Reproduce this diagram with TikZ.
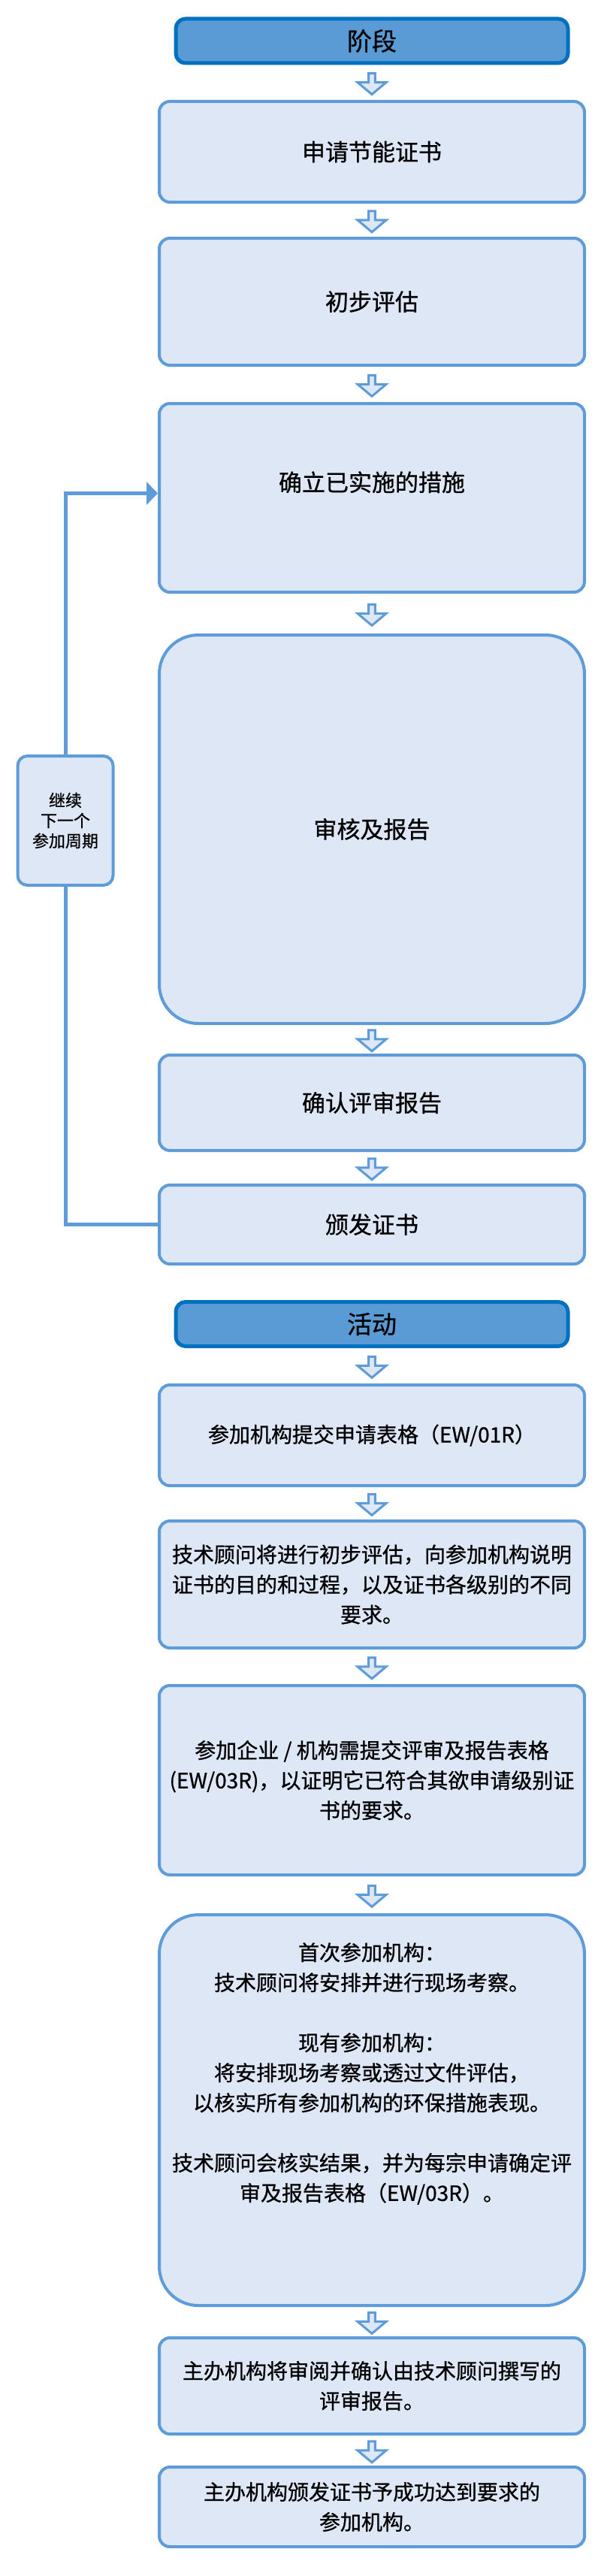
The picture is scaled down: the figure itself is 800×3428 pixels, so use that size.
\documentclass[tikz,border=0pt]{standalone}
\usepackage{fontspec}
\setmainfont{Noto Sans CJK SC}[FakeBold=0.8]
\usetikzlibrary{arrows.meta,shapes.arrows,calc}
\definecolor{stageblue}{RGB}{91,155,213}
\definecolor{stageline}{RGB}{0,112,192}
\definecolor{boxfill}{RGB}{221,231,246}
\definecolor{boxline}{RGB}{93,156,216}
\tikzset{
  stagehead/.style={draw=stageline,fill=stageblue,line width=5pt,rounded corners=13pt,
    minimum width=522pt,minimum height=59pt,font=\fontsize{33}{40}\selectfont},
  phasebox/.style={draw=boxline,fill=boxfill,line width=4pt,rounded corners=14pt,
    minimum width=566pt,align=center,font=\fontsize{31}{40}\selectfont},
  actbox/.style={phasebox,font=\fontsize{28}{40}\selectfont},
  bigcorners/.style={rounded corners=52pt},
  cyclebox/.style={draw=boxline,fill=boxfill,line width=4pt,rounded corners=13pt,
    minimum width=127pt,minimum height=172pt,align=center,font=\fontsize{22}{27}\selectfont},
  downarrow/.style={single arrow,shape border rotate=270,draw=boxline,fill=boxfill,
    line width=3pt,inner sep=0pt,minimum height=28pt,minimum width=38pt,
    single arrow head extend=5pt,single arrow tip angle=100},
  loopline/.style={draw=boxline,line width=5pt},
}
\begin{document}
\begin{tikzpicture}[x=1pt,y=-1pt]
\useasboundingbox (0,0) rectangle (800,3428);
% stages
\node[stagehead] (h1) at (495,54.5) {阶段};
\node[phasebox,minimum height=134pt] (p1) at (495,202) {申请节能证书};
\node[phasebox,minimum height=169pt] (p2) at (495,401.5) {初步评估};
\node[phasebox,minimum height=251pt] (p3) at (495,662.5) {确立已实施的措施\\[4pt]\mbox{}};
\node[phasebox,bigcorners,minimum height=517pt] (p4) at (495,1103.5) {审核及报告};
\node[phasebox,minimum height=127pt] (p5) at (495,1467.5) {确认评审报告};
\node[phasebox,minimum height=105pt] (p6) at (495,1629.5) {颁发证书};
%
% activities
\node[stagehead] (h2) at (495,1762) {活动};
\node[actbox,minimum height=134pt] (a1) at (495,1910) {参加机构提交申请表格（EW/01R）};
\node[actbox,minimum height=169pt] (a2) at (495,2108.5)
  {技术顾问将进行初步评估，向参加机构说明\\证书的目的和过程，以及证书各级别的不同\\要求。};
\node[actbox,minimum height=252pt] (a3) at (495,2369)
  {参加企业 / 机构需提交评审及报告表格\\(EW/03R)，以证明它已符合其欲申请级别证\\书的要求。};
\node[actbox,bigcorners,minimum height=520pt] (a4) at (495,2808)
  {首次参加机构：\\技术顾问将安排并进行现场考察。\\[40pt]
   现有参加机构：\\将安排现场考察或透过文件评估，\\以核实所有参加机构的环保措施表现。\\[40pt]
   技术顾问会核实结果，并为每宗申请确定评\\审及报告表格（EW/03R）。\\[62pt]\mbox{}};
\node[actbox,minimum height=128pt] (a5) at (495,3175)
  {主办机构将审阅并确认由技术顾问撰写的\\评审报告。};
\node[actbox,minimum height=106pt] (a6) at (495,3336)
  {主办机构颁发证书予成功达到要求的\\参加机构。};
%
% block arrows
\foreach \u/\v in {h1/p1,p1/p2,p2/p3,p3/p4,p4/p5,p5/p6,h2/a1,a1/a2,a2/a3,a3/a4,a4/a5,a5/a6}
  \node[downarrow] (arr-\v) at ($(\u.south)!0.5!(\v.north)$) {};
%
% next cycle
\node[cyclebox] (cyc) at (87,1092) {继续\\下一个\\参加周期};
\draw[loopline] (p6.west) -| (cyc.south);
\draw[loopline,-{Triangle[length=15pt,width=30pt]}] (cyc.north) |- ([yshift=6pt]p3.west);
\end{tikzpicture}
\end{document}
